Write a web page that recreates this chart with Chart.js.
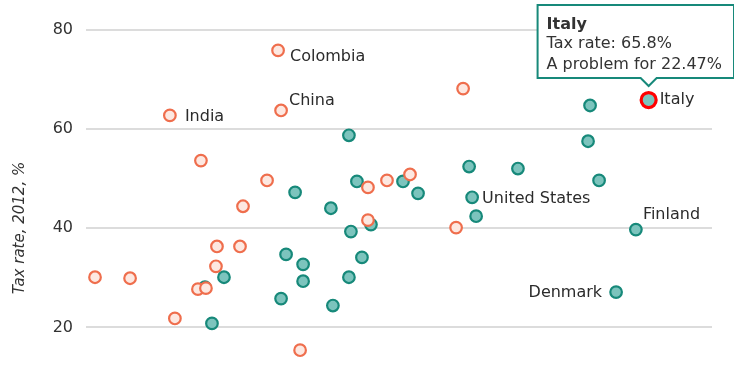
<!DOCTYPE html>
<html>
<head>
<meta charset="utf-8">
<script src="https://cdn.jsdelivr.net/npm/chart.js@4.4.1/dist/chart.umd.min.js"></script>
<style>
  html, body { margin: 0; padding: 0; background: #fff; }
  #wrap { width: 734px; height: 389px; }
</style>
</head>
<body>
<div id="wrap"><canvas id="taxChart"></canvas></div>
<script>
// -- data --
// x: share of firms that call tax rates a problem (%), y: total tax rate 2012 (%)
const oecdX = [5.03, 5.51, 4.75, 7.79, 7.99, 8.67, 8.67, 8.35, 9.86, 10.5, 10.58, 11.02, 9.78, 10.5,
               10.82, 11.38, 12.66, 13.26, 15.3, 15.42, 15.58, 17.25, 20.05, 20.13, 20.49, 22.47, 21.96, 21.17];
const oecdY = [20.8, 30.1, 28.1, 25.8, 34.7, 32.7, 29.3, 47.2, 24.4, 30.1, 39.3, 34.1, 44.0, 58.7,
               49.4, 40.7, 49.4, 47.0, 52.4, 46.2, 42.4, 52.0, 57.5, 64.7, 49.6, 65.8, 39.7, 27.1];
const oecdNames = ['', '', '', '', '', '', '', '', '', '', '', '', '', '',
                   '', '', '', '', '', 'United States', '', '', '', '', '', 'Italy', 'Finland', 'Denmark'];

const emergingX = [0.36, 1.76, 3.55, 4.47, 4.79, 5.19, 5.23, 6.15, 6.27, 4.59, 7.23, 8.55, 3.35, 7.67,
                   7.79, 11.26, 12.02, 12.94, 11.26, 14.78, 15.06];
const emergingY = [30.1, 29.9, 21.8, 27.7, 27.9, 32.3, 36.3, 36.3, 44.4, 53.6, 49.6, 15.4, 62.7, 75.8,
                   63.7, 48.2, 49.6, 50.8, 41.6, 40.1, 68.1];
const emergingNames = ['', '', '', '', '', '', '', '', '', '', '', '', 'India', 'Colombia',
                       'China', '', '', '', '', '', ''];

const yTicks = [20, 40, 60, 80];
const yTitle = 'Tax rate, 2012, %';

// where each name sits next to its point
const labelPlacement = {
  'Colombia':      { dx: 12,  dy: 6,   align: 'left' },
  'China':         { dx: 8,   dy: -10, align: 'left' },
  'India':         { dx: 15,  dy: 1,   align: 'left' },
  'Italy':         { dx: 11,  dy: 0,   align: 'left' },
  'United States': { dx: 10,  dy: 2,   align: 'left' },
  'Finland':       { dx: 7,   dy: -15, align: 'left' },
  'Denmark':       { dx: -14, dy: 1,   align: 'right' }
};

const FONT = '"DejaVu Sans", Verdana, sans-serif';

const toPoints = (xs, ys) => xs.map((x, i) => ({ x: x, y: ys[i] }));

const pointLabels = {
  id: 'pointLabels',
  afterDatasetsDraw(chart) {
    const ctx = chart.ctx;
    ctx.save();
    ctx.font = '16px ' + FONT;
    ctx.fillStyle = '#2b2b2b';
    ctx.textBaseline = 'middle';
    chart.data.datasets.forEach((ds, di) => {
      const meta = chart.getDatasetMeta(di);
      ds.names.forEach((name, i) => {
        const place = labelPlacement[name];
        if (!place) return;
        const pt = meta.data[i];
        ctx.textAlign = place.align;
        ctx.fillText(name, pt.x + place.dx, pt.y + place.dy);
      });
    });
    // axis title, set lower than the axis centre as in the original
    ctx.translate(20, 228);
    ctx.rotate(-Math.PI / 2);
    ctx.font = 'italic 15px ' + FONT;
    ctx.fillStyle = '#333';
    ctx.textAlign = 'center';
    ctx.fillText(yTitle, 0, 0);
    ctx.restore();
  }
};

// chart.js paints dataset 0 last, so the orange circles go first to sit on top
const chart = new Chart(document.getElementById('taxChart').getContext('2d'), {
  type: 'scatter',
  data: {
    datasets: [{
      label: 'Emerging economies',
      data: toPoints(emergingX, emergingY),
      names: emergingNames,
      backgroundColor: '#fde8e1',
      borderColor: '#ef6e4d',
      borderWidth: 2.2,
      pointRadius: 5.8,
      hoverRadius: 7.5,
      hoverBorderWidth: 3.2,
      hoverBorderColor: '#ff0000'
    }, {
      label: 'OECD',
      data: toPoints(oecdX, oecdY),
      names: oecdNames,
      backgroundColor: '#7cc4bd',
      borderColor: '#17897a',
      borderWidth: 2.2,
      pointRadius: 5.8,
      hoverRadius: 7.5,
      hoverBorderWidth: 3.2,
      hoverBorderColor: '#ff0000',
      hoverBackgroundColor: '#7cc4bd'
    }]
  },
  options: {
    responsive: true,
    maintainAspectRatio: false,
    animation: false,
    events: [],
    layout: { padding: { left: 0, right: 22, top: 9, bottom: 12 } },
    scales: {
      x: { type: 'linear', display: false, min: 0, max: 25 },
      y: {
        min: 10,
        max: 84,
        afterFit(scale) {
          scale.width = 86;
          scale.paddingTop = 0;
          scale.paddingBottom = 0;
        },
        afterBuildTicks(scale) { scale.ticks = yTicks.map(v => ({ value: v })); },
        border: { display: false },
        grid: { color: '#dcdcdc', lineWidth: 2, drawTicks: false },
        ticks: { padding: 13, color: '#333', font: { family: FONT, size: 16 } }
      }
    },
    plugins: {
      legend: { display: false },
      tooltip: {
        xAlign: 'center',
        yAlign: 'bottom',
        backgroundColor: '#ffffff',
        borderColor: '#17897a',
        borderWidth: 2,
        cornerRadius: 0,
        caretSize: 8,
        caretPadding: 14,
        padding: { left: 9, right: 12, top: 10, bottom: 4 },
        displayColors: false,
        titleColor: '#333',
        bodyColor: '#333',
        titleFont: { family: FONT, size: 16, weight: 'bold' },
        bodyFont: { family: FONT, size: 16 },
        titleMarginBottom: 0,
        bodySpacing: 1.5,
        callbacks: {
          title: items => items[0].dataset.names[items[0].dataIndex],
          label: item => ['Tax rate: ' + item.parsed.y + '%', 'A problem for ' + item.parsed.x + '%']
        }
      }
    }
  },
  plugins: [pointLabels]
});

// show the Italy tooltip as in the picture
const italy = [{ datasetIndex: 1, index: oecdNames.indexOf('Italy') }];
chart.setActiveElements(italy);
chart.tooltip.setActiveElements(italy, { x: 0, y: 0 });
chart.update();
</script>
</body>
</html>
